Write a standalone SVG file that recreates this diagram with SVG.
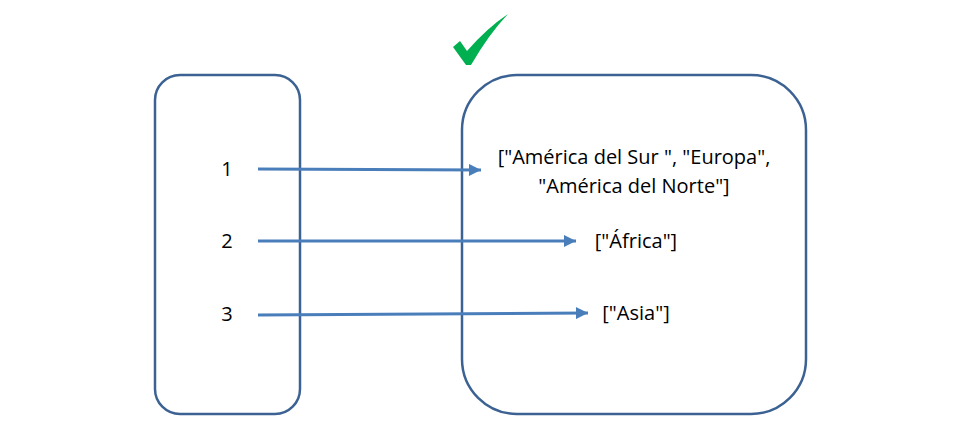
<svg xmlns="http://www.w3.org/2000/svg" width="960" height="431" viewBox="0 0 960 431">
<defs>
<style>
.box{fill:#fff;stroke:#3c6293;stroke-width:2.5}
.t{font-family:"Open Sans","Liberation Sans",sans-serif;font-size:20px;fill:#000;text-anchor:middle}
.c{stroke:#4a7ebb;stroke-width:3;fill:none}
</style>
<marker id="ah" viewBox="0 0 10 10" refX="10" refY="5" markerWidth="4.5" markerHeight="4" markerUnits="strokeWidth" orient="auto">
<path d="M0,0 L10,5 L0,10 z" fill="#4a7ebb"/>
</marker>
</defs>
<rect width="960" height="431" fill="#fff"/>
<g id="check">
<path d="M453,47 L460,41 L467,51 Q487,28 508,14 Q489,34 471,65 L466,65 Z" fill="#00b050"/>
</g>
<g id="keys">
<rect class="box" x="155" y="75" width="145" height="339" rx="25" ry="25"/>
<text class="t" x="227" y="176">1</text>
<text class="t" x="227" y="248">2</text>
<text class="t" x="227" y="321">3</text>
</g>
<g id="values">
<rect class="box" x="462" y="75" width="344" height="339" rx="55" ry="55"/>
<text class="t" x="634" y="164">["América del Sur ", "Europa",</text>
<text class="t" x="634" y="193">"América del Norte"]</text>
<text class="t" x="636" y="248">["África"]</text>
<text class="t" x="636" y="320">["Asia"]</text>
</g>
<g id="connectors">
<line class="c" x1="258" y1="169" x2="481" y2="170" marker-end="url(#ah)"/>
<line class="c" x1="258" y1="241" x2="576" y2="241" marker-end="url(#ah)"/>
<line class="c" x1="258" y1="315" x2="588" y2="313" marker-end="url(#ah)"/>
</g>
</svg>
